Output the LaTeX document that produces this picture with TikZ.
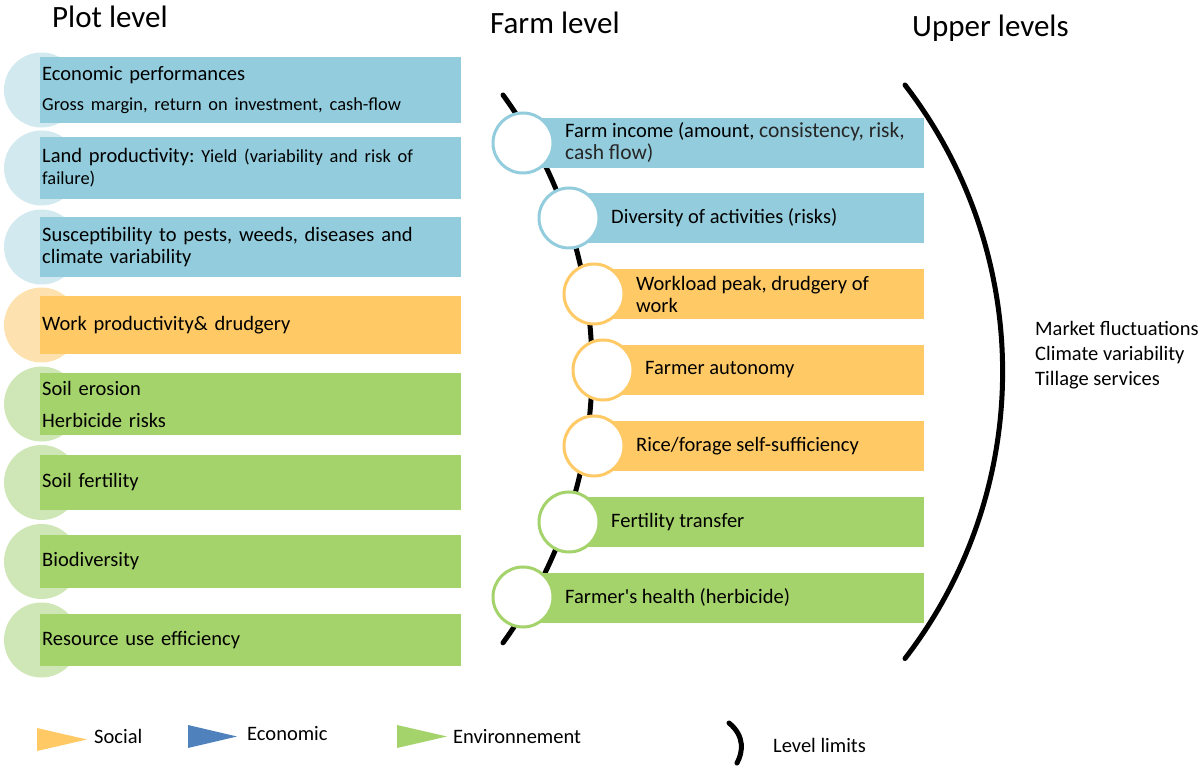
\documentclass[tikz,border=0pt]{standalone}
\usepackage{fontspec}
\setmainfont{Carlito}[Ligatures=TeXOff]
\usepackage{tikz}
\usetikzlibrary{positioning}

\definecolor{econ}{HTML}{93CDDD}
\definecolor{econpale}{HTML}{D3E9F0}
\definecolor{social}{HTML}{FFCA66}
\definecolor{socialpale}{HTML}{FDE2B0}
\definecolor{env}{HTML}{A5D36B}
\definecolor{envpale}{HTML}{CFE6B6}
\definecolor{econdark}{HTML}{4F81BD}
\definecolor{softtext}{HTML}{262626}

\newcommand{\boxfont}{\fontsize{20.5}{22}\selectfont}
\newcommand{\smallboxfont}{\fontsize{18.4}{22}\selectfont}
\newcommand{\softfont}{\color{softtext}\fontsize{21.5}{22}\selectfont}
\newcommand{\headfont}{\fontsize{31}{36}\selectfont}
\frenchspacing

\begin{document}
\begin{tikzpicture}[x=1pt, y=-1pt,
    pale/.style={circle, inner sep=0pt, minimum size=75pt},
    plotbox/.style={rectangle, anchor=west, minimum width=421pt, text width=417pt, inner xsep=2pt, inner ysep=0pt, align=left, font=\boxfont},
    farmbox/.style={rectangle, anchor=east, minimum height=50pt, inner sep=0pt},
    ring/.style={circle, draw, fill=white, line width=3pt, minimum size=60pt, inner sep=0pt},
    farmtext/.style={inner sep=2pt, align=left, font=\boxfont},
    head/.style={anchor=base west, inner sep=0pt, font=\headfont},
    legtext/.style={anchor=base west, inner sep=0pt, font=\boxfont},
    limit/.style={line width=5pt, line cap=round}
]
\useasboundingbox (0,0) rectangle (1203,767);

% titles
\node[head] (plot) at (52,28) {Plot level};
\node[head] (farm) at (490,34) {Farm level};
\node[head] (upper) at (912,37) {Upper levels};

% plot level
\node[pale, fill=econpale] (pc1) at (41.5,90) {};
\node[plotbox, fill=econ, minimum height=66pt] (pb1) at (40,90) {Economic performances\\[8pt]{\smallboxfont Gross margin, return on investment, cash-flow}};
\node[pale, fill=econpale] (pc2) at (41.5,168) {};
\node[plotbox, fill=econ, minimum height=62pt] (pb2) at (40,168) {Land productivity: {\smallboxfont Yield (variability and risk of}\\{\smallboxfont failure)}};
\node[pale, fill=econpale] (pc3) at (41.5,247) {};
\node[plotbox, fill=econ, minimum height=60pt] (pb3) at (40,247) {Susceptibility to pests, weeds, diseases and\\climate variability};
\node[pale, fill=socialpale] (pc4) at (41.5,325) {};
\node[plotbox, fill=social, minimum height=58pt] (pb4) at (40,325) {Work productivity\& drudgery};
\node[pale, fill=envpale] (pc5) at (41.5,404) {};
\node[plotbox, fill=env, minimum height=62pt] (pb5) at (40,404) {Soil erosion\\[10pt]Herbicide risks};
\node[pale, fill=envpale] (pc6) at (41.5,482.5) {};
\node[plotbox, fill=env, minimum height=55pt] (pb6) at (40,482.5) {Soil fertility};
\node[pale, fill=envpale] (pc7) at (41.5,561.5) {};
\node[plotbox, fill=env, minimum height=53pt] (pb7) at (40,561.5) {Biodiversity};
\node[pale, fill=envpale] (pc8) at (41.5,640) {};
\node[plotbox, fill=env, minimum height=52pt] (pb8) at (40,640) {Resource use efficiency};

% farm level
\draw[limit] (503,95) arc[start angle=36, end angle=-36, radius=466pt];
\node[farmbox, fill=econ, minimum width=401pt] (fb1) at (924,143) {};
\node[farmbox, fill=econ, minimum width=355pt] (fb2) at (924,218) {};
\node[farmbox, fill=social, minimum width=330pt] (fb3) at (924,294) {};
\node[farmbox, fill=social, minimum width=321pt] (fb4) at (924,370) {};
\node[farmbox, fill=social, minimum width=330pt] (fb5) at (924,446) {};
\node[farmbox, fill=env, minimum width=355pt] (fb6) at (924,522) {};
\node[farmbox, fill=env, minimum width=401pt] (fb7) at (924,598) {};
\node[ring, draw=econ] (fc1) at (523,143) {};
\node[ring, draw=econ] (fc2) at (569,218) {};
\node[ring, draw=social] (fc3) at (594,294) {};
\node[ring, draw=social] (fc4) at (603,370) {};
\node[ring, draw=social] (fc5) at (594,446) {};
\node[ring, draw=env] (fc6) at (569,522) {};
\node[ring, draw=env] (fc7) at (523,597) {};
\node[farmtext, right=8.5pt of fc1] (ft1) {Farm income (amount, {\softfont consistency, risk,}\\{\softfont cash flow)}};
\node[farmtext, right=8.5pt of fc2] (ft2) {Diversity of activities (risks)};
\node[farmtext, right=8.5pt of fc3] (ft3) {Workload peak, drudgery of\\work};
\node[farmtext, right=8.5pt of fc4] (ft4) {Farmer autonomy};
\node[farmtext, right=8.5pt of fc5] (ft5) {Rice/forage self-sufficiency};
\node[farmtext, right=8.5pt of fc6] (ft6) {Fertility transfer};
\node[farmtext, right=8.5pt of fc7] (ft7) {Farmer's health (herbicide)};

% upper levels
\draw[limit] (905,85) arc[start angle=37.6, end angle=-37.6, radius=470pt];
\node[anchor=west, inner sep=0pt, align=left, font=\fontsize{20.5}{25}\selectfont] (drivers) at (1035,355) {Market fluctuations\\Climate variability\\Tillage services};

% legend
\fill[social] (37,728) -- (87,739.5) -- (37,751) -- cycle;
\node[legtext] (lsocial) at (94,743) {Social};
\fill[econdark] (188,725) -- (237,736.5) -- (188,748) -- cycle;
\node[legtext] (lecon) at (247,740) {Economic};
\fill[env] (397,725) -- (447,736.5) -- (397,748) -- cycle;
\node[legtext] (lenv) at (453,743) {Environnement};
\draw[limit] (729,723) .. controls (745,736) and (743,752) .. (737,763);
\node[legtext] (llimit) at (773,752) {Level limits};
\end{tikzpicture}
\end{document}
